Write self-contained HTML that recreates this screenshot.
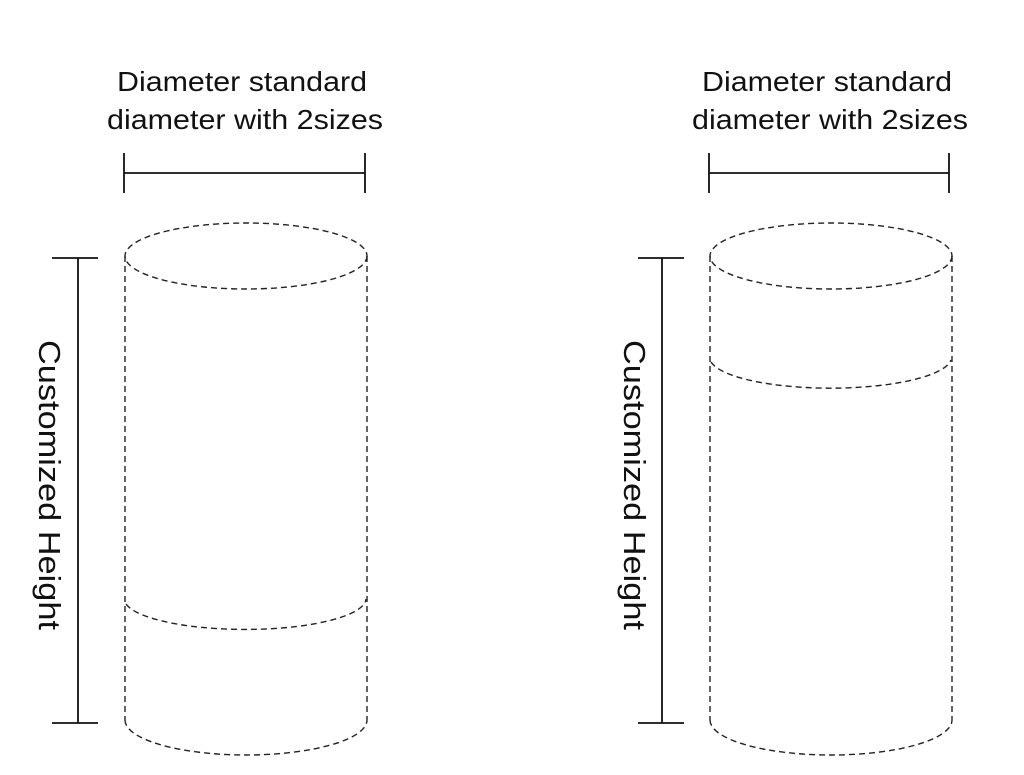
<!DOCTYPE html>
<html><head><style>body{margin:0;background:#fff}</style></head><body>
<svg width="1024" height="770" viewBox="0 0 1024 770" xmlns="http://www.w3.org/2000/svg" font-family="Liberation Sans, sans-serif">
<rect width="1024" height="770" fill="#fff"/>
<g fill="#111" font-size="28" text-anchor="middle" lengthAdjust="spacingAndGlyphs">
<text x="242" y="91" textLength="250" lengthAdjust="spacingAndGlyphs">Diameter standard</text>
<text x="245" y="129" textLength="276" lengthAdjust="spacingAndGlyphs">diameter with 2sizes</text>
<text x="827" y="91" textLength="250" lengthAdjust="spacingAndGlyphs">Diameter standard</text>
<text x="830" y="129" textLength="276" lengthAdjust="spacingAndGlyphs">diameter with 2sizes</text>
<text transform="translate(39,485) rotate(90)" font-size="31" textLength="290" lengthAdjust="spacingAndGlyphs">Customized Height</text>
<text transform="translate(624,485) rotate(90)" font-size="31" textLength="290" lengthAdjust="spacingAndGlyphs">Customized Height</text>
</g>
<g stroke="#111" stroke-width="1.8" fill="none">
<path d="M124 153V193M365 153V193M124 173H365"/>
<path d="M709 153V193M949 153V193M709 173H949"/>
<path d="M52 258H98M52 723H98M78 258V723"/>
<path d="M638 258H684M638 723H684M662 258V723"/>
</g>
<g stroke="#222" stroke-width="1.4" fill="none" stroke-dasharray="6,4">
<ellipse cx="246" cy="256" rx="121" ry="33"/>
<path d="M125 256V720M367 256V720"/>
<path d="M125 720A121 35 0 0 0 367 720"/>
<path d="M126 604A121 31 0 0 0 366 599"/>
<ellipse cx="831" cy="256" rx="121" ry="33"/>
<path d="M710 256V720M952 256V720"/>
<path d="M710 720A121 35 0 0 0 952 720"/>
<path d="M711 362A121 31 0 0 0 951 360"/>
</g>
</svg>
</body></html>
